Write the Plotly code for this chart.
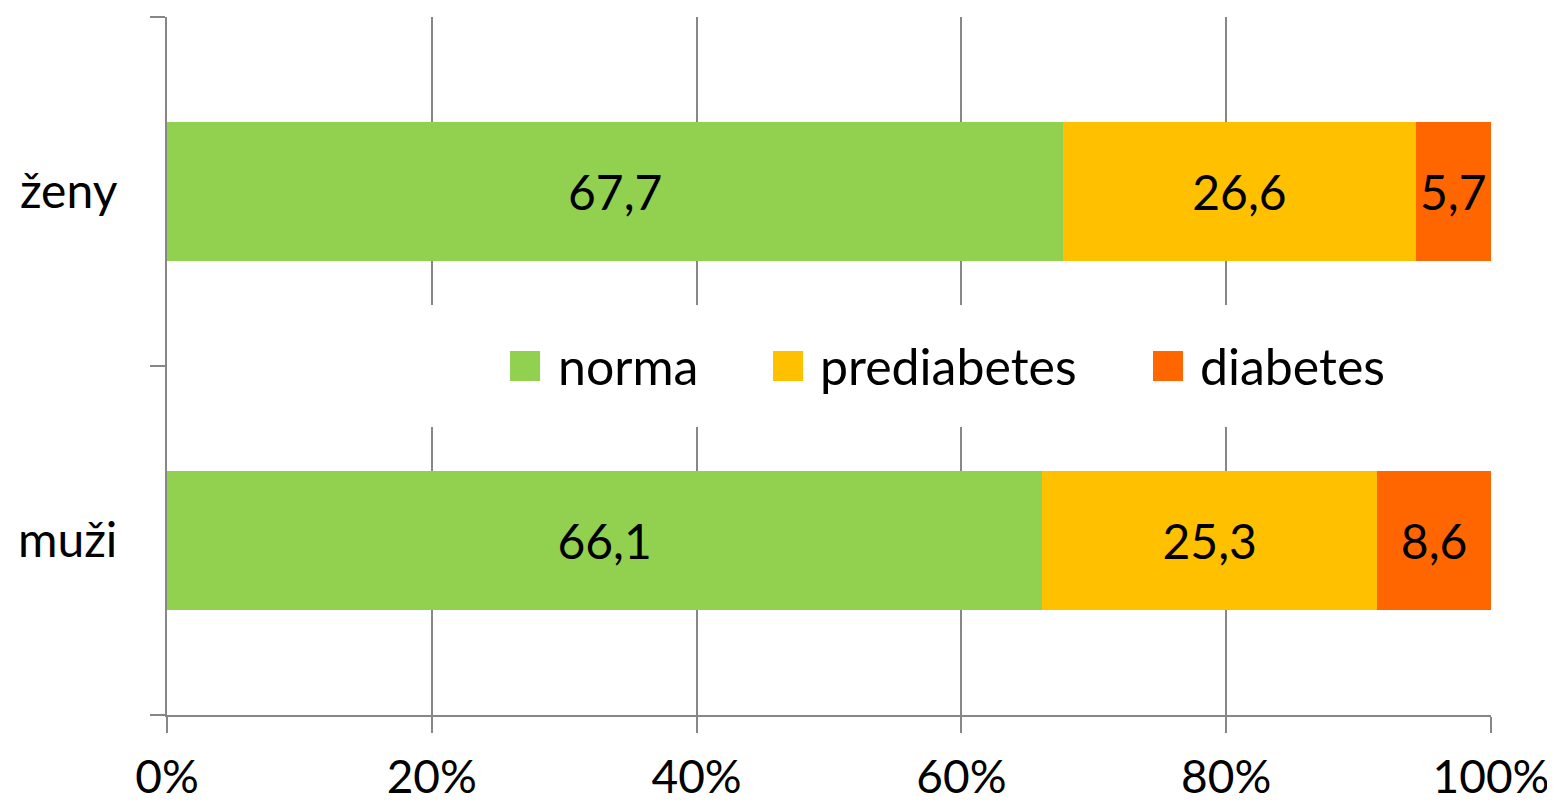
import plotly.graph_objects as go

categories = ["muži", "ženy"]
series_names = ["norma", "prediabetes", "diabetes"]
norma = [66.1, 67.7]
prediabetes = [25.3, 26.6]
diabetes = [8.6, 5.7]
colors = ["#92D050", "#FFC000", "#FF6600"]
x_ticks = [0, 20, 40, 60, 80, 100]

FONT = "Lato"
FS = 48
GRID = "#878787"

fig = go.Figure()
for name, vals, col in zip(series_names, [norma, prediabetes, diabetes], colors):
    fig.add_trace(go.Bar(
        y=categories, x=vals, name=name, orientation="h",
        marker=dict(color=col, line=dict(width=0)),
        texttemplate="%{x:.1f}", textposition="inside",
        insidetextanchor="middle", textangle=0, constraintext="none",
        textfont=dict(family=FONT, size=FS, color="black"),
        showlegend=False, hoverinfo="skip",
    ))

# custom legend (white box covering gridlines, square keys and labels)
fig.add_shape(type="rect", xref="paper", yref="paper", x0=0.1994, x1=0.9985,
              y0=0.4126, y1=0.5874, fillcolor="white", line=dict(width=0), layer="above")
key_x = [0.2591, 0.4577, 0.7447]
text_x = [0.2938, 0.4917, 0.7787]
for kx, tx, name, col in zip(key_x, text_x, series_names, colors):
    fig.add_shape(type="rect", xref="paper", yref="paper", x0=kx, x1=kx + 0.0227,
                  y0=0.4785, y1=0.5215, fillcolor=col, line=dict(width=0), layer="above")
    fig.add_annotation(xref="paper", yref="paper", x=tx, y=0.5, text=name,
                       showarrow=False, xanchor="left", yanchor="middle",
                       font=dict(family=FONT, size=50, color="black"))

fig.update_layout(
    barmode="stack", bargap=0.6,
    separators=", ",
    width=1547, height=795,
    margin=dict(l=159, r=64, t=9, b=88, autoexpand=False),
    paper_bgcolor="white", plot_bgcolor="white",
    font=dict(family=FONT, size=FS, color="black"),
    showlegend=False,
)
fig.update_xaxes(
    range=[0, 100], tickvals=x_ticks, ticktext=[f"{v}%" for v in x_ticks],
    showgrid=True, gridcolor=GRID, gridwidth=2,
    showline=True, linecolor=GRID, linewidth=2,
    ticks="outside", ticklen=16, tickwidth=2, tickcolor=GRID,
    ticklabelstandoff=5, zeroline=False, automargin=False,
    tickfont=dict(family=FONT, size=46, color="black"),
)
fig.update_yaxes(
    categoryorder="array", categoryarray=categories,
    showgrid=False, showline=True, linecolor=GRID, linewidth=2,
    ticks="outside", tickson="boundaries", ticklen=15, tickwidth=2, tickcolor=GRID,
    ticklabelstandoff=38, automargin=False,
    tickfont=dict(family=FONT, size=FS, color="black"),
)

fig.write_html("out.html")
